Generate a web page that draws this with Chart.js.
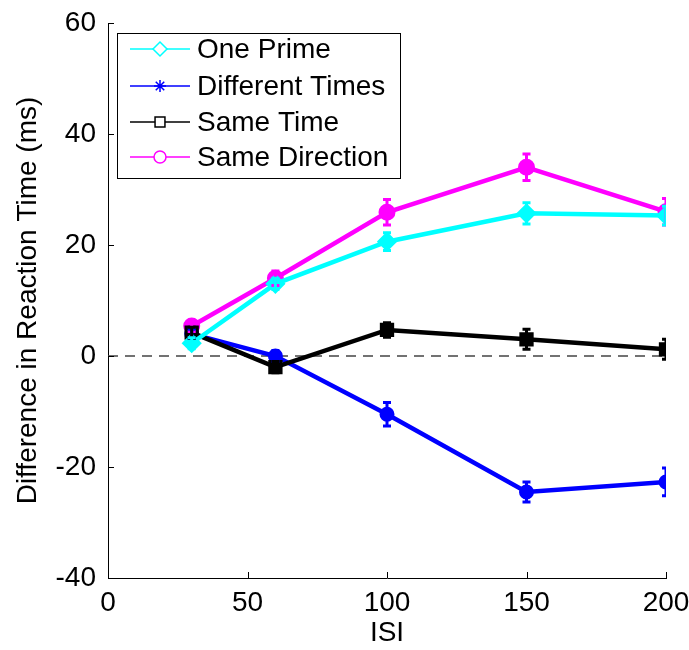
<!DOCTYPE html>
<html>
<head>
<meta charset="utf-8">
<script src="https://cdn.jsdelivr.net/npm/chart.js@4.4.1/dist/chart.umd.min.js"></script>
<style>
  html, body { margin: 0; padding: 0; background: #fff; }
  #wrap { width: 689px; height: 650px; }
</style>
</head>
<body>
<div id="wrap"><canvas id="c" width="689" height="650"></canvas></div>
<script>
// ---- data ----
const isi = [30, 60, 100, 150, 200];
const seriesNames = ['One Prime', 'Different Times', 'Same Time', 'Same Direction'];
const onePrime = [2.3, 13.0, 20.6, 25.7, 25.3];
const onePrimeErr = [1.0, 1.0, 1.6, 1.9, 1.7];
const differentTimes = [4.0, 0.0, -10.5, -24.5, -22.7];
const differentTimesErr = [0.8, 1.0, 2.1, 1.8, 2.5];
const sameTime = [4.2, -2.0, 4.7, 3.0, 1.2];
const sameTimeErr = [1.0, 1.0, 1.3, 1.8, 1.8];
const sameDirection = [5.4, 14.0, 25.9, 34.0, 26.0];
const sameDirectionErr = [1.0, 1.3, 2.3, 2.4, 2.4];
const refLineX = [0, 200];
const refLineY = [0, 0];
const xTickValues = [0, 50, 100, 150, 200];
const yTickValues = [-40, -20, 0, 20, 40, 60];

const FONT = "'Liberation Sans', Arial, Helvetica, sans-serif";
const colors = ['#00ffff', '#0000ff', '#000000', '#ff00ff'];
const styles = ['rectRot', 'circle', 'rect', 'circle'];
const legendStyles = ['rectRot', 'star', 'rect', 'circle'];
const values = [onePrime, differentTimes, sameTime, sameDirection];
const errs = [onePrimeErr, differentTimesErr, sameTimeErr, sameDirectionErr];
const radii = [8, 6, 8, 7];
const orders = [1, 3, 2, 4];

const pts = (xs, ys) => xs.map((x, i) => ({x: x, y: ys[i]}));

const datasets = values.map((v, i) => ({
  label: seriesNames[i],
  data: pts(isi, v),
  borderColor: colors[i],
  backgroundColor: colors[i],
  borderWidth: 4.5,
  pointStyle: styles[i],
  pointRadius: radii[i],
  pointBorderWidth: 3,
  pointBackgroundColor: colors[i],
  pointBorderColor: colors[i],
  pointHoverRadius: radii[i],
  order: orders[i],
  tension: 0
}));
datasets.push({
  label: 'zero',
  data: pts(refLineX, refLineY),
  borderColor: '#444444',
  borderWidth: 1.5,
  borderDash: [10, 7],
  pointRadius: 0,
  order: 10
});

const errorBars = {
  id: 'errorBars',
  afterDatasetsDraw(chart) {
    const {ctx, chartArea: a, scales: {x, y}} = chart;
    ctx.save();
    ctx.beginPath();
    ctx.rect(a.left, a.top, a.right - a.left, a.bottom - a.top);
    ctx.clip();
    [3, 1, 2, 0].forEach(i => {
      ctx.strokeStyle = colors[i];
      ctx.lineWidth = 3;
      isi.forEach((xv, j) => {
        const px = x.getPixelForValue(xv);
        const t = y.getPixelForValue(values[i][j] + errs[i][j]);
        const b = y.getPixelForValue(values[i][j] - errs[i][j]);
        ctx.beginPath();
        ctx.moveTo(px, t); ctx.lineTo(px, b);
        ctx.moveTo(px - 4, t); ctx.lineTo(px + 4, t);
        ctx.moveTo(px - 4, b); ctx.lineTo(px + 4, b);
        ctx.stroke();
      });
    });
    ctx.restore();
  }
};

const innerTicks = {
  id: 'innerTicks',
  afterDraw(chart) {
    const {ctx, chartArea: a, scales: {x, y}} = chart;
    ctx.save();
    ctx.strokeStyle = '#000';
    ctx.lineWidth = 1;
    ctx.beginPath();
    xTickValues.forEach(v => {
      const px = Math.round(x.getPixelForValue(v)) + 0.5;
      ctx.moveTo(px, a.bottom); ctx.lineTo(px, a.bottom - 6);
    });
    yTickValues.forEach(v => {
      const py = Math.round(y.getPixelForValue(v)) + 0.5;
      ctx.moveTo(a.left, py); ctx.lineTo(a.left + 6, py);
    });
    ctx.stroke();
    ctx.restore();
  }
};

const customLegend = {
  id: 'customLegend',
  afterDraw(chart) {
    const ctx = chart.ctx;
    ctx.save();
    const bx = 117.5, by = 33.5, bw = 283, bh = 145;
    ctx.fillStyle = '#fff';
    ctx.fillRect(bx, by, bw, bh);
    ctx.strokeStyle = '#000';
    ctx.lineWidth = 1;
    ctx.strokeRect(bx, by, bw, bh);
    const rowY = [49, 86, 122, 157];
    const lr = [7, 6, 7, 6];
    seriesNames.forEach((name, i) => {
      const yy = rowY[i];
      ctx.strokeStyle = colors[i];
      ctx.lineWidth = 1.5;
      ctx.beginPath();
      ctx.moveTo(130, yy); ctx.lineTo(190, yy);
      ctx.stroke();
      ctx.fillStyle = '#fff';
      ctx.strokeStyle = colors[i];
      ctx.lineWidth = 1.5;
      Chart.helpers.drawPoint(ctx, {pointStyle: legendStyles[i], radius: lr[i], borderWidth: 1.5, rotation: 0}, 160, yy);
      ctx.fillStyle = '#000';
      ctx.font = '28px ' + FONT;
      ctx.textAlign = 'left';
      ctx.textBaseline = 'middle';
      ctx.fillText(name, 197, yy + 1);
    });
    ctx.restore();
  }
};

new Chart(document.getElementById('c'), {
  type: 'line',
  data: { datasets: datasets },
  plugins: [errorBars, innerTicks, customLegend],
  options: {
    responsive: false,
    animation: false,
    events: [],
    layout: { padding: { top: 23, right: 23, left: 0, bottom: 0 } },
    plugins: { legend: { display: false }, tooltip: { enabled: false } },
    scales: {
      x: {
        type: 'linear',
        min: 0, max: 200,
        afterFit(s) { s.height = 72; s.paddingLeft = 0; s.paddingRight = 0; },
        ticks: {
          stepSize: 50, color: '#000', padding: 8, maxRotation: 0,
          font: { family: FONT, size: 28 }
        },
        grid: { display: true, drawOnChartArea: false, drawTicks: false },
        border: { display: true, color: '#000', width: 1 },
        title: {
          display: true, text: 'ISI', color: '#000',
          font: { family: FONT, size: 28 }, padding: { top: 0, bottom: 0 }
        }
      },
      y: {
        type: 'linear',
        min: -40, max: 60,
        afterFit(s) { s.width = 108; s.paddingTop = 0; s.paddingBottom = 0; },
        ticks: {
          stepSize: 20, color: '#000', padding: 12,
          font: { family: FONT, size: 28 }
        },
        grid: { display: true, drawOnChartArea: false, drawTicks: false },
        border: { display: true, color: '#000', width: 1 },
        title: {
          display: true, text: 'Difference in Reaction Time (ms)', color: '#000',
          font: { family: FONT, size: 28 }, padding: { top: 11, bottom: 0 }
        }
      }
    }
  }
});
</script>
</body>
</html>
